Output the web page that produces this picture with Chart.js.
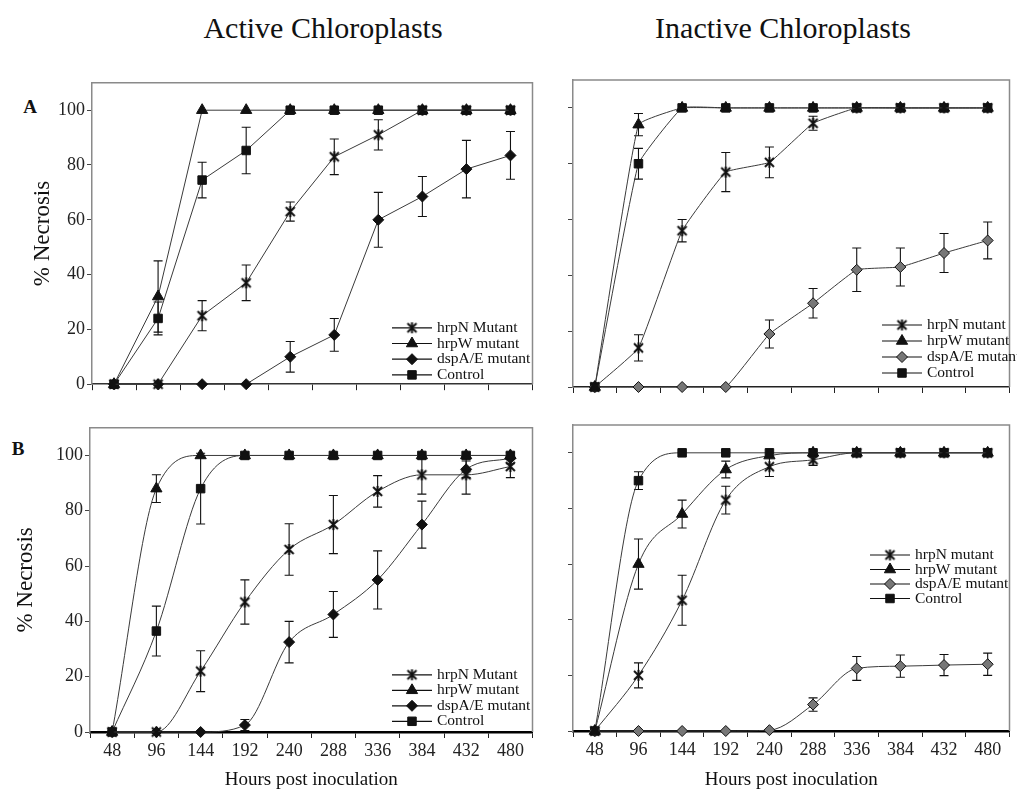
<!DOCTYPE html>
<html>
<head>
<meta charset="utf-8">
<script src="https://cdn.jsdelivr.net/npm/chart.js@4.4.1/dist/chart.umd.min.js"></script>
<style>
  body { margin: 0; background: #fff; width: 1017px; height: 797px; position: relative; overflow: hidden; }
  canvas { position: absolute; }
  .t { position: absolute; font-family: 'Liberation Serif', 'Times New Roman', serif; color: #111; white-space: nowrap; transform: translate(-50%, -50%); }
</style>
</head>
<body>
<div class="t" style="left:323px; top:28px; font-size:30px;">Active Chloroplasts</div>
<div class="t" style="left:783px; top:28px; font-size:30px;">Inactive Chloroplasts</div>
<div class="t" style="left:30px; top:107px; font-size:19px; font-weight:bold;">A</div>
<div class="t" style="left:18px; top:449px; font-size:19px; font-weight:bold;">B</div>

<canvas id="tl" width="540" height="327" style="left:0px; top:70px;"></canvas>
<canvas id="tr" width="474" height="325" style="left:543px; top:72px;"></canvas>
<canvas id="bl" width="540" height="382" style="left:0px; top:415px;"></canvas>
<canvas id="br" width="474" height="382" style="left:543px; top:415px;"></canvas>

<script>
document.addEventListener('DOMContentLoaded', () => {

    // --- data ---
    const hours = ['48', '96', '144', '192', '240', '288', '336', '384', '432', '480'];
    const labelsActive = ['hrpN Mutant', 'hrpW mutant', 'dspA/E mutant', 'Control'];
    const labelsInactive = ['hrpN mutant', 'hrpW mutant', 'dspA/E mutant', 'Control'];

    // A - active chloroplasts
    const aActHrpN = [0, 0, 25, 37, 63, 83, 91, 100, 100, 100];
    const aActHrpNErr = [0, 0, 5.5, 6.5, 3.5, 6.5, 5.5, 0, 0, 0];
    const aActHrpW = [0, 32, 100, 100, 100, 100, 100, 100, 100, 100];
    const aActHrpWErr = [0, 13, 0, 0, 0, 0, 0, 0, 0, 0];
    const aActDsp = [0, 0, 0, 0, 10, 18, 60, 68.5, 78.5, 83.5];
    const aActDspErr = [0, 0, 0, 0, 5.6, 6, 10, 7.3, 10.5, 8.7];
    const aActCtrl = [0, 24, 74.5, 85.3, 100, 100, 100, 100, 100, 100];
    const aActCtrlErr = [0, 6, 6.5, 8.5, 0, 0, 0, 0, 0, 0];

    // A - inactive chloroplasts
    const aInHrpN = [0, 14, 56, 77, 80.5, 94.5, 100, 100, 100, 100];
    const aInHrpNErr = [0, 4.7, 4, 7, 5.5, 2.5, 0, 0, 0, 0];
    const aInHrpW = [0, 94, 100, 100, 100, 100, 100, 100, 100, 100];
    const aInHrpWErr = [0, 4, 0, 0, 0, 0, 0, 0, 0, 0];
    const aInDsp = [0, 0, 0, 0, 19, 30, 42, 43, 48, 52.5];
    const aInDspErr = [0, 0, 0, 0, 5, 5.3, 7.8, 6.8, 7, 6.6];
    const aInCtrl = [0, 80, 100, 100, 100, 100, 100, 100, 100, 100];
    const aInCtrlErr = [0, 5.5, 0, 0, 0, 0, 0, 0, 0, 0];

    // B - active chloroplasts
    const bActHrpN = [0, 0, 22, 47, 66, 75, 87, 93, 93, 96];
    const bActHrpNErr = [0, 0, 7.4, 8, 9.3, 10.5, 5.7, 7, 7, 4];
    const bActHrpW = [0, 88, 100, 100, 100, 100, 100, 100, 100, 100];
    const bActHrpWErr = [0, 5, 0, 0, 0, 0, 0, 0, 0, 0];
    const bActDsp = [0, 0, 0, 2.5, 32.5, 42.5, 55, 75, 95, 99];
    const bActDspErr = [0, 0, 0, 2, 7.5, 8.3, 10.5, 8.5, 3, 2];
    const bActCtrl = [0, 36.5, 88, 100, 100, 100, 100, 100, 100, 100];
    const bActCtrlErr = [0, 9, 12.8, 0, 0, 0, 0, 0, 0, 0];

    // B - inactive chloroplasts
    const bInHrpN = [0, 20, 47, 83, 95, 97.5, 100, 100, 100, 100];
    const bInHrpNErr = [0, 4.5, 9, 5, 3.5, 2, 0, 0, 0, 0];
    const bInHrpW = [0, 60, 78, 94, 99, 100, 100, 100, 100, 100];
    const bInHrpWErr = [0, 9, 5, 3, 0, 0, 0, 0, 0, 0];
    const bInDsp = [0, 0, 0, 0, 0.3, 9.5, 22.5, 23.3, 23.7, 24];
    const bInDspErr = [0, 0, 0, 0, 0, 2.4, 4.3, 4, 3.8, 4];
    const bInCtrl = [0, 90, 100, 100, 100, 100, 100, 100, 100, 100];
    const bInCtrlErr = [0, 3.2, 0, 0, 0, 0, 0, 0, 0, 0];
    // --------------------------------

    const serif = "'Liberation Serif', 'Times New Roman', serif";

    // asterisk marker (X with a vertical bar)
    function starMarker(size) {
        const c = document.createElement('canvas');
        c.width = c.height = size;
        const g = c.getContext('2d');
        g.strokeStyle = '#111';
        g.lineWidth = 2;
        g.beginPath();
        g.moveTo(2, 2); g.lineTo(size - 2, size - 2);
        g.moveTo(size - 2, 2); g.lineTo(2, size - 2);
        g.moveTo(size / 2, 1); g.lineTo(size / 2, size - 1);
        g.stroke();
        return c;
    }
    const star = starMarker(13);

    // gray frame on top and right of the plot area
    const frame = {
        id: 'frame',
        beforeDatasetsDraw(chart) {
            const { ctx, chartArea: a } = chart;
            ctx.save();
            ctx.strokeStyle = '#8a8a8a';
            ctx.lineWidth = 1.5;
            ctx.beginPath();
            ctx.moveTo(a.left, a.top);
            ctx.lineTo(a.right, a.top);
            ctx.lineTo(a.right, a.bottom);
            ctx.stroke();
            ctx.restore();
        }
    };

    // vertical error bars, from dataset.errors
    const errorBars = {
        id: 'errorBars',
        beforeDatasetsDraw(chart) {
            const ctx = chart.ctx, y = chart.scales.y;
            chart.data.datasets.forEach((ds, i) => {
                if (!ds.errors) return;
                const meta = chart.getDatasetMeta(i);
                ctx.save();
                ctx.strokeStyle = '#111';
                ctx.lineWidth = 1.1;
                meta.data.forEach((pt, j) => {
                    const e = ds.errors[j];
                    if (!e) return;
                    const v = ds.data[j];
                    const top = y.getPixelForValue(v + e);
                    const bot = y.getPixelForValue(Math.max(0, v - e));
                    ctx.beginPath();
                    ctx.moveTo(pt.x, top); ctx.lineTo(pt.x, bot);
                    ctx.moveTo(pt.x - 4.5, top); ctx.lineTo(pt.x + 4.5, top);
                    ctx.moveTo(pt.x - 4.5, bot); ctx.lineTo(pt.x + 4.5, bot);
                    ctx.stroke();
                });
                ctx.restore();
            });
        }
    };

    // legend drawn inside the plot area
    const boxLegend = {
        id: 'boxLegend',
        afterDraw(chart, args, opts) {
            const { ctx, chartArea: a } = chart;
            ctx.save();
            chart.data.datasets.forEach((ds, i) => {
                const x = a.left + opts.x, y = a.top + opts.y + i * opts.rowH;
                ctx.strokeStyle = '#111';
                ctx.lineWidth = 1.2;
                ctx.beginPath();
                ctx.moveTo(x, y); ctx.lineTo(x + 40, y);
                ctx.stroke();
                ctx.fillStyle = ds.pointBackgroundColor;
                ctx.strokeStyle = ds.pointBorderColor;
                ctx.lineWidth = 1;
                Chart.helpers.drawPoint(ctx, {
                    pointStyle: ds.pointStyle, radius: ds.pointRadius, rotation: 0, borderWidth: 1
                }, x + 20, y);
                ctx.fillStyle = '#111';
                ctx.font = '15.5px ' + serif;
                ctx.textBaseline = 'middle';
                ctx.fillText(ds.label, x + 45, y);
            });
            ctx.restore();
        }
    };

    function series(label, data, errors, style, radius, fill) {
        return {
            label, data, errors,
            pointStyle: style,
            pointRadius: radius,
            pointBackgroundColor: fill,
            pointBorderColor: '#111',
            pointBorderWidth: 1,
            borderColor: '#3a3a3a',
            borderWidth: 1,
            fill: false,
            clip: false
        };
    }

    function datasets(names, hrpN, hrpNErr, hrpW, hrpWErr, dsp, dspErr, ctrl, ctrlErr, diamondFill) {
        return [
            series(names[0], hrpN, hrpNErr, star, 6, '#111'),
            series(names[1], hrpW, hrpWErr, 'triangle', 6.5, '#111'),
            series(names[2], dsp, dspErr, 'rectRot', 5.5, diamondFill),
            series(names[3], ctrl, ctrlErr, 'rect', 6, '#111')
        ];
    }

    function makePanel(id, cfg) {
        const ctx = document.getElementById(id).getContext('2d');
        return new Chart(ctx, {
            type: 'line',
            data: { labels: hours, datasets: cfg.datasets },
            options: {
                responsive: false,
                animation: false,
                layout: { padding: { left: 0, top: cfg.padTop, right: cfg.padRight, bottom: 0 } },
                elements: { line: { tension: cfg.tension, cubicInterpolationMode: cfg.smooth ? 'monotone' : 'default' } },
                scales: {
                    x: {
                        offset: true,
                        grid: { offset: true, drawOnChartArea: false, tickLength: 6, color: '#222', lineWidth: 1 },
                        border: { color: cfg.axisColor, width: cfg.axisWidth },
                        ticks: { display: cfg.showX, color: '#222', font: { family: serif, size: 18 }, padding: 2, maxRotation: 0, autoSkip: false },
                        title: { display: cfg.showX, text: 'Hours post inoculation', color: '#111', font: { family: serif, size: 19 }, padding: { top: 0, bottom: 6 } },
                        afterFit: s => { s.height = cfg.xHeight; }
                    },
                    y: {
                        min: 0,
                        max: 110,
                        afterBuildTicks: s => { s.ticks = s.ticks.filter(t => t.value <= 100); },
                        ticks: { stepSize: 20, display: cfg.showY, color: '#222', font: { family: serif, size: 18 }, padding: 2 },
                        grid: { drawOnChartArea: false, tickLength: 5, color: '#444' },
                        border: { color: '#8a8a8a', width: 1.5 },
                        title: { display: cfg.showY, text: '% Necrosis', color: '#111', font: { family: serif, size: 23 }, padding: { top: cfg.yTitlePad, bottom: 0 } },
                        afterFit: s => { s.width = cfg.yWidth; }
                    }
                },
                plugins: {
                    legend: { display: false },
                    tooltip: { enabled: false },
                    boxLegend: cfg.legend
                }
            },
            plugins: [frame, errorBars, boxLegend]
        });
    }

    makePanel('tl', {
        datasets: datasets(labelsActive, aActHrpN, aActHrpNErr, aActHrpW, aActHrpWErr, aActDsp, aActDspErr, aActCtrl, aActCtrlErr, '#111'),
        padTop: 8, padRight: 3, yWidth: 92, xHeight: 10, yTitlePad: 29,
        showX: false, showY: true, tension: 0, smooth: false, axisColor: '#333', axisWidth: 1.5,
        legend: { x: 300, y: 245, rowH: 15.7 }
    });

    makePanel('tr', {
        datasets: datasets(labelsInactive, aInHrpN, aInHrpNErr, aInHrpW, aInHrpWErr, aInDsp, aInDspErr, aInCtrl, aInCtrlErr, '#777'),
        padTop: 8, padRight: 1, yWidth: 30, xHeight: 10, yTitlePad: 0,
        showX: false, showY: false, tension: 0.1, smooth: false, axisColor: '#222', axisWidth: 1.5,
        legend: { x: 309, y: 245, rowH: 16 }
    });

    makePanel('bl', {
        datasets: datasets(labelsActive, bActHrpN, bActHrpNErr, bActHrpW, bActHrpWErr, bActDsp, bActDspErr, bActCtrl, bActCtrlErr, '#111'),
        padTop: 10, padRight: 7, yWidth: 90, xHeight: 65, yTitlePad: 12,
        showX: true, showY: true, tension: 0.4, smooth: true, axisColor: '#000', axisWidth: 2.5,
        legend: { x: 302, y: 247, rowH: 15.5 }
    });

    makePanel('br', {
        datasets: datasets(labelsInactive, bInHrpN, bInHrpNErr, bInHrpW, bInHrpWErr, bInDsp, bInDspErr, bInCtrl, bInCtrlErr, '#777'),
        padTop: 10, padRight: 1, yWidth: 30, xHeight: 66, yTitlePad: 0,
        showX: true, showY: false, tension: 0.4, smooth: true, axisColor: '#000', axisWidth: 2.5,
        legend: { x: 297, y: 130, rowH: 14.5 }
    });

});
</script>
</body>
</html>
